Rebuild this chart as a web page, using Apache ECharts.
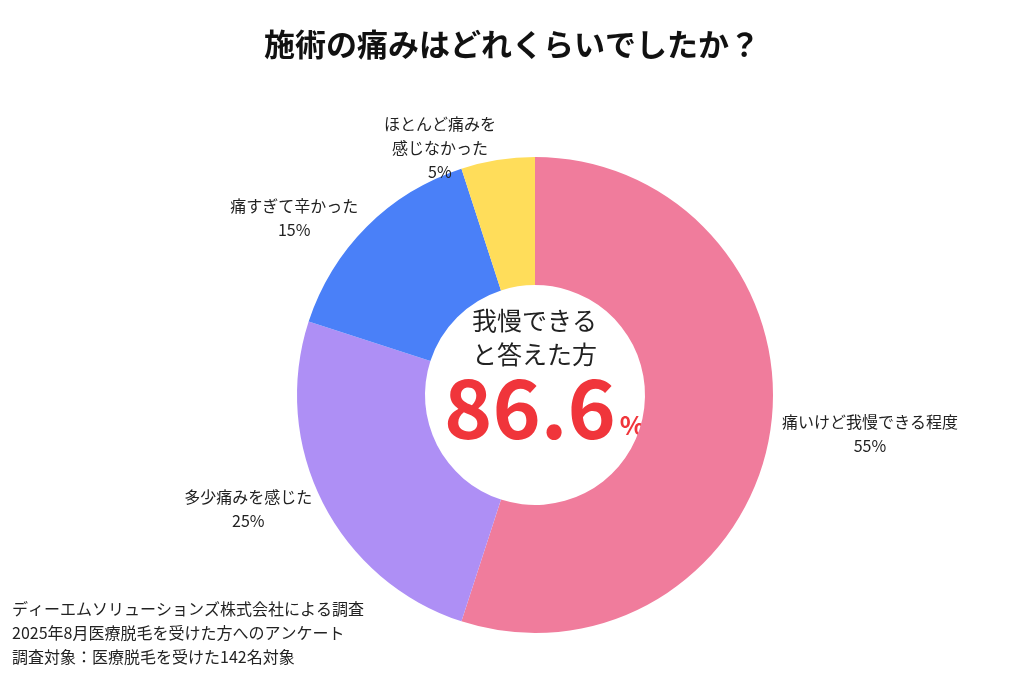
<!DOCTYPE html>
<html>
<head>
<meta charset="utf-8">
<script src="https://cdn.jsdelivr.net/npm/echarts@6/dist/echarts.min.js"></script>
<style>html,body{margin:0;background:#fff}#main{width:1024px;height:683px}</style>
</head>
<body>
<div id="main"></div>
<script>
var categories = ['痛いけど我慢できる程度', '多少痛みを感じた', '痛すぎて辛かった', 'ほとんど痛みを\n感じなかった'];
var values = [55, 25, 15, 5];
var colors = ['#F07C9C', '#AE8FF5', '#4A80F8', '#FFDD5A'];
var centerValue = '86.6';

var font = '"Noto Sans CJK JP", "Noto Sans", sans-serif';
var myChart = echarts.init(document.getElementById('main'));

var set = {
    backgroundColor: '#fff',
    title: {
        text: '施術の痛みはどれくらいでしたか？',
        left: 'center',
        top: 24,
        textStyle: { fontFamily: font, fontSize: 31, fontWeight: 'bold', color: '#111' }
    },
    graphic: [
        {
            type: 'text', left: 472, top: 303,
            style: { text: '我慢できる\nと答えた方', fill: '#222', font: '25px ' + font, lineHeight: 34, textAlign: 'center' }
        },
        {
            type: 'text', left: 444, top: 367,
            style: {
                text: '{n|' + centerValue + '}{p|%}',
                rich: {
                    n: { fontFamily: font, fontSize: 82, fontWeight: 'bold', fill: '#F0353B' },
                    p: { fontFamily: font, fontSize: 26, fontWeight: 'bold', fill: '#F0353B', padding: [34, 0, 0, 4] }
                }
            }
        },
        {
            type: 'text', left: 12, bottom: 14,
            style: {
                text: 'ディーエムソリューションズ株式会社による調査\n2025年8月医療脱毛を受けた方へのアンケート\n調査対象：医療脱毛を受けた142名対象',
                fill: '#222', font: '16px ' + font, lineHeight: 24
            }
        }
    ],
    series: [{
        type: 'pie',
        center: [535, 395],
        radius: [110, 238],
        startAngle: 90,
        clockwise: true,
        silent: true,
        data: categories.map(function (c, i) {
            return { name: c, value: values[i], itemStyle: { color: colors[i] } };
        }),
        label: {
            show: true,
            position: 'outside',
            formatter: function (p) {
                return p.name.split('\n').map(function (s) { return '{a|' + s + '}'; }).join('\n') + '\n{a|' + p.value + '%}';
            },
            rich: { a: { fontFamily: font, fontSize: 16, lineHeight: 24, color: '#222', align: 'center' } },
            distanceToLabelLine: 0
        },
        labelLine: { show: false, length: 12, length2: 0 }
    }]
};
myChart.setOption(set);
</script>
</body>
</html>
